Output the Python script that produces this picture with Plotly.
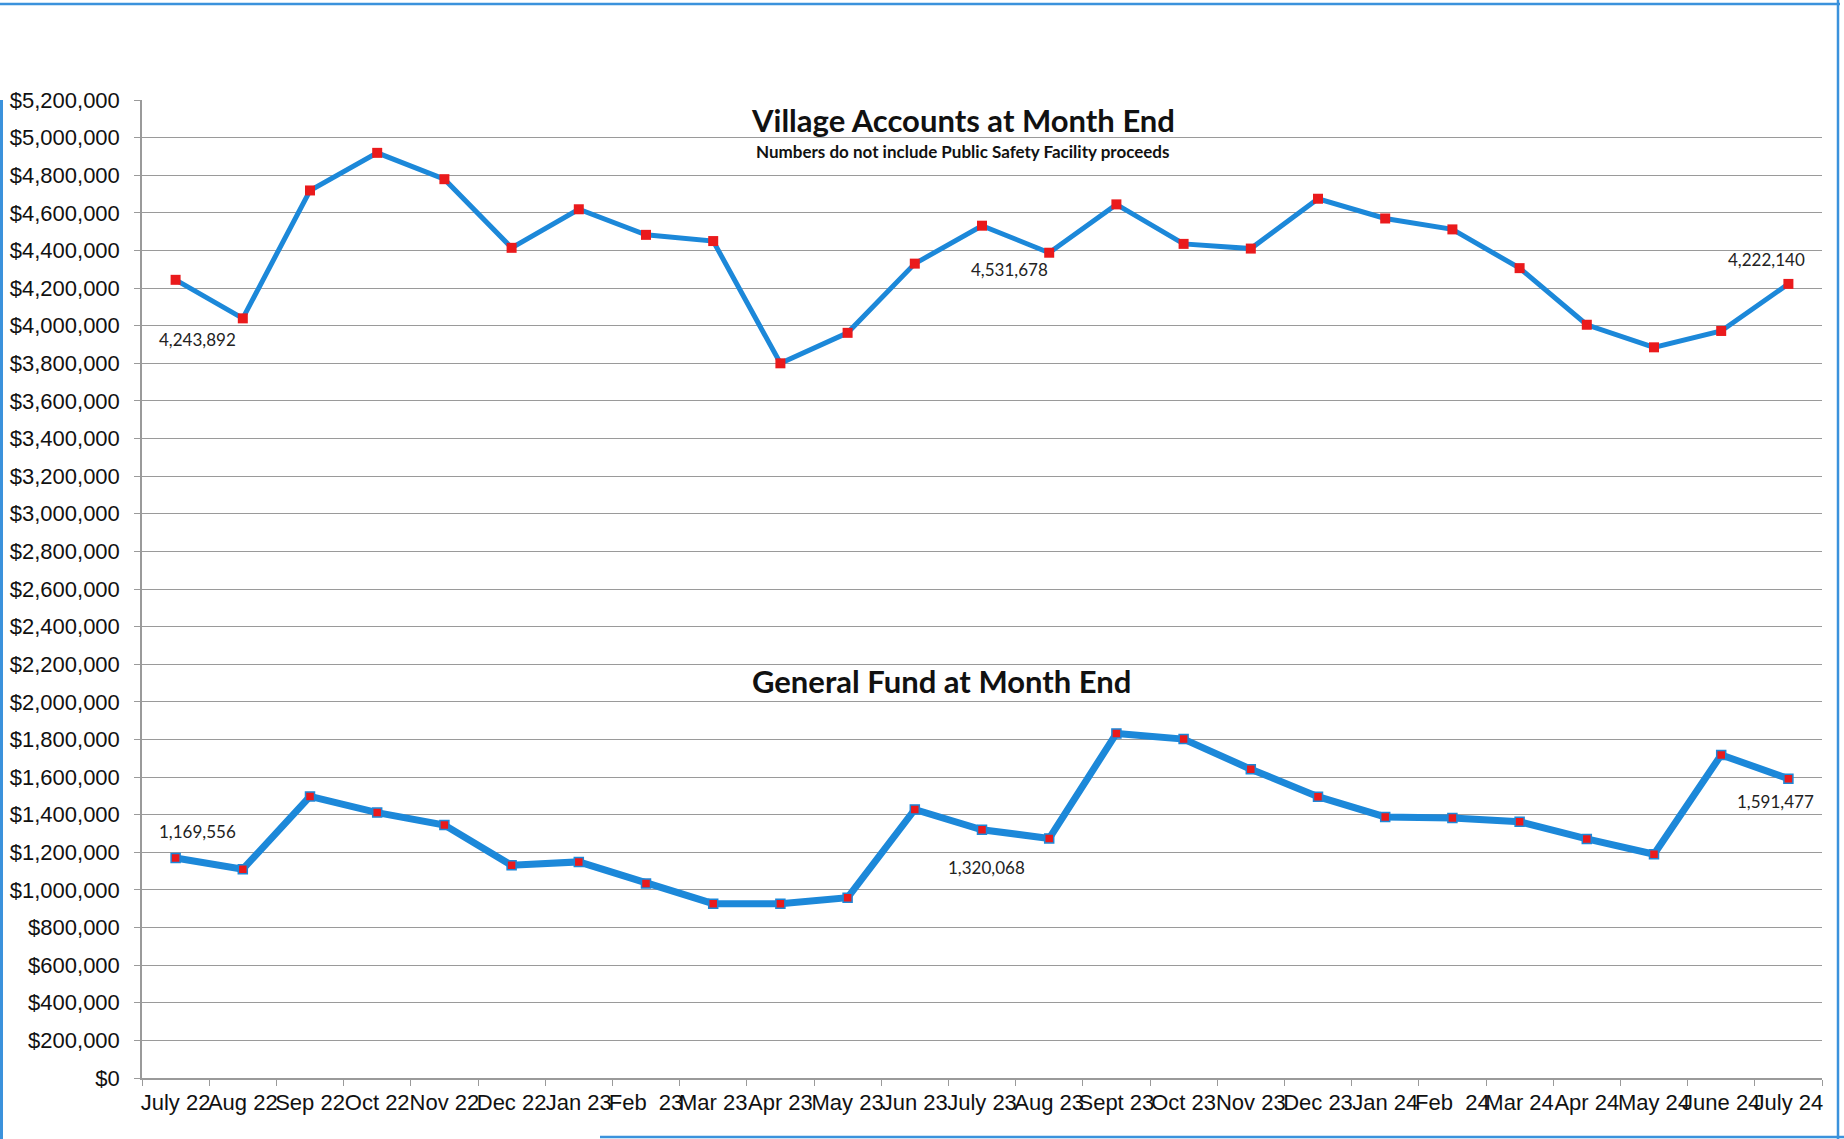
import plotly.graph_objects as go

months = ["July 22", "Aug 22", "Sep 22", "Oct 22", "Nov 22", "Dec 22", "Jan 23", "Feb  23",
          "Mar 23", "Apr 23", "May 23", "Jun 23", "July 23", "Aug 23", "Sept 23", "Oct 23",
          "Nov 23", "Dec 23", "Jan 24", "Feb  24", "Mar 24", "Apr 24", "May 24", "June 24", "July 24"]

village = [4243892, 4039000, 4719000, 4919000, 4779000, 4414000, 4619000, 4483000,
           4450000, 3800000, 3962000, 4330000, 4531678, 4388000, 4645000, 4435000,
           4410000, 4675000, 4570000, 4512000, 4306000, 4005000, 3885000, 3972000, 4222140]

general = [1169556, 1110000, 1497000, 1411000, 1345000, 1131000, 1149000, 1034000,
           927000, 927000, 959000, 1428000, 1320068, 1274000, 1832000, 1802000,
           1642000, 1496000, 1388000, 1382000, 1363000, 1271000, 1190000, 1718000, 1591477]

labeled_points = [0, 12, 24]

title_main = "Village Accounts at Month End"
subtitle_main = "Numbers do not include Public Safety Facility proceeds"
title_general = "General Fund at Month End"

W, H = 1844, 1139
L, R, T, B = 142, 22, 100, 61
PW, PH = W - L - R, H - T - B


def px(x):
    return (x - L) / PW


def py(y):
    return (H - B - y) / PH


BLUE = "#1c88d9"
RED = "#ea1a1c"
GRID = "#9a9a9a"
AXFONT = "Liberation Sans, Arial, sans-serif"
TFONT = "Lato, Carlito, Calibri, sans-serif"

fig = go.Figure()
fig.add_trace(go.Scatter(
    x=months, y=village, mode="lines+markers", name="Village Accounts",
    line=dict(color=BLUE, width=5),
    marker=dict(symbol="square", size=10, color=RED, line=dict(color=RED, width=0)),
))
fig.add_trace(go.Scatter(
    x=months, y=general, mode="lines+markers", name="General Fund",
    line=dict(color=BLUE, width=7),
    marker=dict(symbol="square", size=9, color=RED, line=dict(color=BLUE, width=1.5)),
))

annotations = []
village_offsets = [(22, -60), (27, -44), (-22, 24)]
general_offsets = [(22, 27), (4, -38), (-13, -23)]
for idx, (dx, dy) in zip(labeled_points, village_offsets):
    annotations.append(dict(x=months[idx], y=village[idx], xref="x", yref="y",
                            text=f"{village[idx]:,}", showarrow=False, xshift=dx, yshift=dy,
                            xanchor="center", yanchor="middle",
                            font=dict(family=TFONT, size=17, color="#222222")))
for idx, (dx, dy) in zip(labeled_points, general_offsets):
    annotations.append(dict(x=months[idx], y=general[idx], xref="x", yref="y",
                            text=f"{general[idx]:,}", showarrow=False, xshift=dx, yshift=dy,
                            xanchor="center", yanchor="middle",
                            font=dict(family=TFONT, size=17, color="#222222")))

annotations.append(dict(x=px(963), y=py(120), xref="paper", yref="paper", text=f"<b>{title_main}</b>",
                        showarrow=False, xanchor="center", yanchor="middle",
                        font=dict(family=TFONT, size=31, color="#111111")))
annotations.append(dict(x=px(963), y=py(152), xref="paper", yref="paper", text=f"<b>{subtitle_main}</b>",
                        showarrow=False, xanchor="center", yanchor="middle",
                        font=dict(family=TFONT, size=17, color="#111111")))
annotations.append(dict(x=px(941), y=py(681), xref="paper", yref="paper", text=f"<b>{title_general}</b>",
                        showarrow=False, xanchor="center", yanchor="middle",
                        font=dict(family=TFONT, size=31, color="#111111")))

FRAME = "#3b92dc"
shapes = [
    dict(type="line", xref="paper", yref="paper", x0=px(0), x1=px(1840), y0=py(4), y1=py(4),
         line=dict(color=FRAME, width=2.5)),
    dict(type="line", xref="paper", yref="paper", x0=px(1838), x1=px(1838), y0=py(0), y1=py(1139),
         line=dict(color=FRAME, width=2.5)),
    dict(type="line", xref="paper", yref="paper", x0=px(1.5), x1=px(1.5), y0=py(100), y1=py(1139),
         line=dict(color=FRAME, width=3)),
    dict(type="line", xref="paper", yref="paper", x0=px(600), x1=px(1844), y0=py(1137), y1=py(1137),
         line=dict(color=FRAME, width=2.5)),
]

fig.update_layout(
    width=W, height=H,
    margin=dict(l=L, r=R, t=T, b=B, pad=0, autoexpand=False),
    paper_bgcolor="white", plot_bgcolor="white",
    showlegend=False,
    annotations=annotations,
    shapes=shapes,
    xaxis=dict(type="category", range=[-0.5, 24.5], tickson="boundaries", ticks="outside",
               ticklen=6, tickcolor=GRID, showline=True, linecolor=GRID, linewidth=1.5,
               showgrid=False, tickangle=0, ticklabelstandoff=4, automargin=False,
               tickfont=dict(family=AXFONT, size=22, color="#111111")),
    yaxis=dict(range=[0, 5200000], dtick=200000, tick0=0, tickprefix="$", tickformat=",",
               ticks="outside", ticklen=6, tickcolor=GRID, showline=True, linecolor=GRID,
               linewidth=1.5, showgrid=True, gridcolor=GRID, gridwidth=1, zeroline=False,
               ticklabelstandoff=10, automargin=False,
               tickfont=dict(family=AXFONT, size=22, color="#111111")),
)

fig.write_html("out.html", config={"displayModeBar": False},
               post_script="document.body.style.margin='0px';document.body.style.overflow='hidden';")
